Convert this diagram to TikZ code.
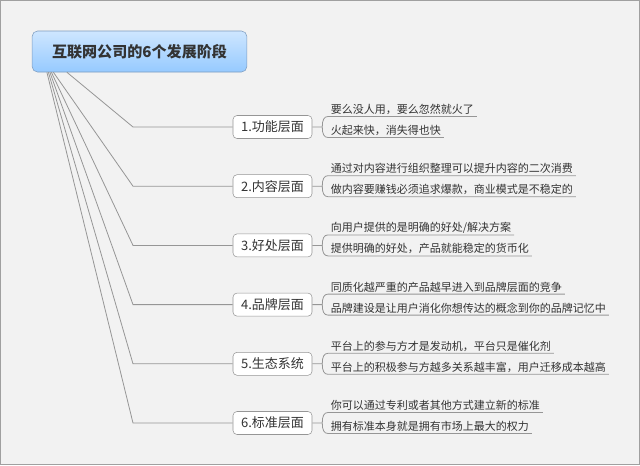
\documentclass[tikz,border=0pt]{standalone}
\usepackage{fontspec}
\setmainfont{Noto Sans CJK SC}
\usepackage{tikz}
\usetikzlibrary{positioning,calc}
\usepackage{xcolor}
\definecolor{mapbg}{RGB}{242,242,242}
\definecolor{mapframe}{RGB}{160,160,160}
\definecolor{roottop}{RGB}{206,230,255}
\definecolor{rootbot}{RGB}{150,202,255}
\definecolor{rootedge}{RGB}{125,155,190}
\definecolor{mapline}{RGB}{150,150,150}
\definecolor{maptext}{RGB}{51,51,51}

\begin{document}
\begin{tikzpicture}[
  x=0.75pt, y=-0.75pt,
  every node/.style={text=maptext},
  root/.style={draw=rootedge, top color=roottop, bottom color=rootbot, rounded corners=4pt,
               minimum width=161pt, minimum height=30.75pt, font=\fontsize{11.3}{13}\selectfont\bfseries},
  stage/.style={draw=mapline, fill=white, rounded corners=3pt, minimum width=59.25pt,
                minimum height=17.25pt, inner sep=1pt, font=\fontsize{9.75}{11}\selectfont},
  leaf/.style={anchor=south west, inner xsep=2pt, inner ysep=1.2pt, font=\fontsize{8.25}{9}\selectfont},
  lk/.style={draw=mapline, line width=0.6pt},
]

% Canvas
\fill[mapbg] (0,0) rectangle (640,465);
\draw[mapframe, line width=0.75pt] (0.5,0.5) rectangle (639.5,464.5);
\useasboundingbox (0,0) rectangle (640,465);

% Central topic
\node[root] (root) at (139.5,51.5) {互联网公司的6个发展阶段};

% Stages
\node[stage] (s1) at (272.5,127)   {1.功能层面};
\node[stage] (s2) at (272.5,186.2) {2.内容层面};
\node[stage] (s3) at (272.5,245.4) {3.好处层面};
\node[stage] (s4) at (272.5,304.6) {4.品牌层面};
\node[stage] (s5) at (272.5,363.8) {5.生态系统};
\node[stage] (s6) at (272.5,423)   {6.标准层面};

% Details
\node[leaf] (s1a) at (328,116.5)   {要么没人用，要么忽然就火了};
\node[leaf] (s1b) at (328,137.5)   {火起来快，消失得也快};
\node[leaf] (s2a) at (328,175.7)   {通过对内容进行组织整理可以提升内容的二次消费};
\node[leaf] (s2b) at (328,196.7)   {做内容要赚钱必须追求爆款，商业模式是不稳定的};
\node[leaf] (s3a) at (328,234.9)   {向用户提供的是明确的好处/解决方案};
\node[leaf] (s3b) at (328,255.9)   {提供明确的好处，产品就能稳定的货币化};
\node[leaf] (s4a) at (328,294.1)   {同质化越严重的产品越早进入到品牌层面的竞争};
\node[leaf] (s4b) at (328,315.1)   {品牌建设是让用户消化你想传达的概念到你的品牌记忆中};
\node[leaf] (s5a) at (328,353.3)   {平台上的参与方才是发动机，平台只是催化剂};
\node[leaf] (s5b) at (328,374.3)   {平台上的积极参与方越多关系越丰富，用户迁移成本越高};
\node[leaf] (s6a) at (328,412.5)   {你可以通过专利或者其他方式建立新的标准};
\node[leaf] (s6b) at (328,433.5)   {拥有标准本身就是拥有市场上最大的权力};

% Root to stages
\draw[lk] ($(root.south west)+(35,0)$)   -- (s1.west -| 133,0) -- (s1.west);
\draw[lk] ($(root.south west)+(21.5,0)$) -- (s2.west -| 133,0) -- (s2.west);
\draw[lk] ($(root.south west)+(19.5,0)$) -- (s3.west -| 133,0) -- (s3.west);
\draw[lk] ($(root.south west)+(18,0)$)   -- (s4.west -| 133,0) -- (s4.west);
\draw[lk] ($(root.south west)+(16.5,0)$) -- (s5.west -| 133,0) -- (s5.west);
\draw[lk] ($(root.south west)+(15,0)$)   -- (s6.west -| 133,0) -- (s6.west);

% Stages to details
\draw[lk] (s1.east) -- ++(10,0) .. controls +(0,-7) and +(-4,0) .. (s1a.south west) -- (s1a.south east);
\draw[lk] (s1.east) ++(10,0) .. controls +(0,7) and +(-4,0) .. (s1b.south west) -- (s1b.south east);
\draw[lk] (s2.east) -- ++(10,0) .. controls +(0,-7) and +(-4,0) .. (s2a.south west) -- (s2a.south east);
\draw[lk] (s2.east) ++(10,0) .. controls +(0,7) and +(-4,0) .. (s2b.south west) -- (s2b.south east);
\draw[lk] (s3.east) -- ++(10,0) .. controls +(0,-7) and +(-4,0) .. (s3a.south west) -- (s3a.south east);
\draw[lk] (s3.east) ++(10,0) .. controls +(0,7) and +(-4,0) .. (s3b.south west) -- (s3b.south east);
\draw[lk] (s4.east) -- ++(10,0) .. controls +(0,-7) and +(-4,0) .. (s4a.south west) -- (s4a.south east);
\draw[lk] (s4.east) ++(10,0) .. controls +(0,7) and +(-4,0) .. (s4b.south west) -- (s4b.south east);
\draw[lk] (s5.east) -- ++(10,0) .. controls +(0,-7) and +(-4,0) .. (s5a.south west) -- (s5a.south east);
\draw[lk] (s5.east) ++(10,0) .. controls +(0,7) and +(-4,0) .. (s5b.south west) -- (s5b.south east);
\draw[lk] (s6.east) -- ++(10,0) .. controls +(0,-7) and +(-4,0) .. (s6a.south west) -- (s6a.south east);
\draw[lk] (s6.east) ++(10,0) .. controls +(0,7) and +(-4,0) .. (s6b.south west) -- (s6b.south east);

\end{tikzpicture}
\end{document}
